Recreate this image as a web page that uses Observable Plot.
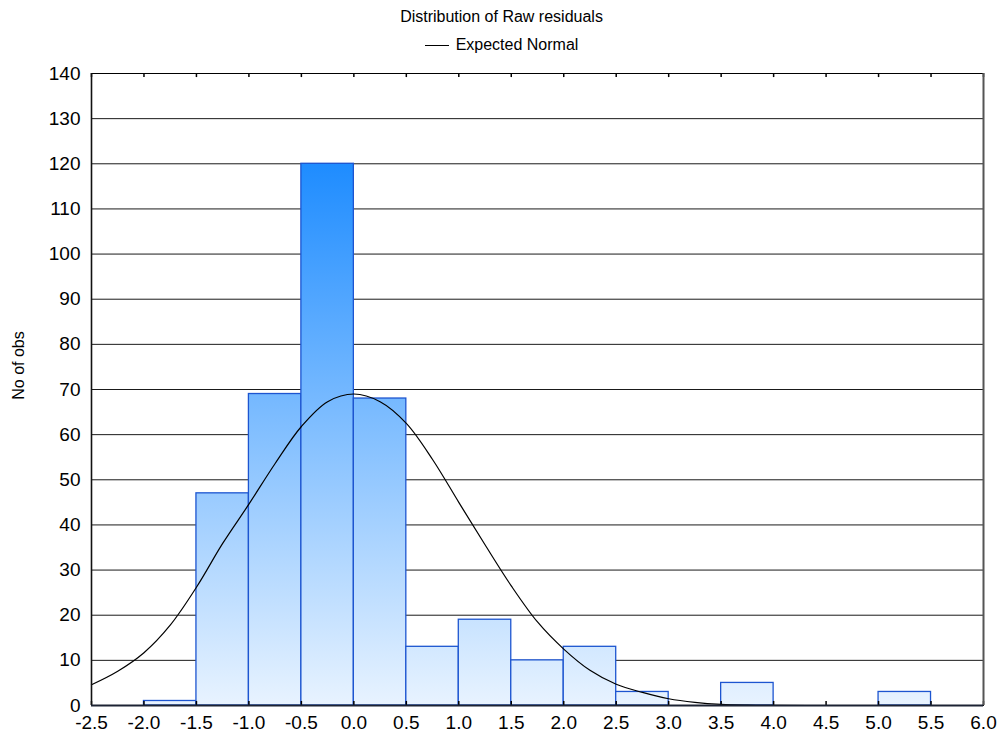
<!DOCTYPE html>
<html>
<head>
<meta charset="utf-8">
<script src="https://cdn.jsdelivr.net/npm/d3@7"></script>
<script src="https://cdn.jsdelivr.net/npm/@observablehq/plot@0.6"></script>
<style>
  html, body { margin: 0; padding: 0; background: #fff; }
  body { width: 1003px; height: 744px; overflow: hidden; font-family: "Liberation Sans", Arial, sans-serif; color: #000; }
  #title { height: 34px; line-height: 34px; text-align: center; font-size: 16px; }
  #legend { height: 22px; line-height: 22px; text-align: center; font-size: 16px; }
  #legend .sw { display: inline-block; width: 24px; height: 0; border-top: 1px solid #000; vertical-align: middle; margin-right: 7px; }
  svg { display: block; }
</style>
</head>
<body>
<div id="title">Distribution of Raw residuals</div>
<div id="legend"><span class="sw"></span>Expected Normal</div>
<div id="chart"></div>
<script>
// Histogram bins (left edges, width 0.5) and counts
const binStarts = [-2.5, -2.0, -1.5, -1.0, -0.5, 0.0, 0.5, 1.0, 1.5, 2.0, 2.5, 3.0, 3.5, 4.0, 4.5, 5.0, 5.5];
const binCounts = [0, 1, 47, 69, 120, 68, 13, 19, 10, 13, 3, 0, 5, 0, 0, 3, 0];
const binWidth = 0.5;

// Expected normal curve
const curveX = [-2.5, -2.25, -2.0, -1.75, -1.5, -1.25, -1.0, -0.75, -0.5, -0.25, 0.0, 0.25, 0.5, 0.75, 1.0, 1.25, 1.5, 1.75, 2.0, 2.25, 2.5, 2.75, 3.0, 3.25, 3.5, 3.75, 4.0, 4.5, 5.0, 5.5, 6.0];
const curveY = [4.6, 7.6, 11.7, 17.8, 26.2, 35.9, 44.6, 53.6, 61.8, 67.3, 69.0, 67.3, 62.5, 54.5, 45.0, 35.6, 26.5, 18.5, 12.5, 7.8, 4.7, 2.9, 1.5, 0.7, 0.25, 0.08, 0.02, 0, 0, 0, 0];

// Tick labels
const xTicks = [-2.5, -2.0, -1.5, -1.0, -0.5, 0.0, 0.5, 1.0, 1.5, 2.0, 2.5, 3.0, 3.5, 4.0, 4.5, 5.0, 5.5, 6.0];
const yTicks = [0, 10, 20, 30, 40, 50, 60, 70, 80, 90, 100, 110, 120, 130, 140];
const xDomain = [-2.5, 6.0];
const yDomain = [0, 140];
const yLabel = "No of obs";

const bars = binStarts.map((s, i) => ({x1: s, x2: s + binWidth, count: binCounts[i]})).filter(d => d.count > 0);
const curve = curveX.map((x, i) => ({x, y: curveY[i]}));
const gridVals = yTicks.filter(v => v > yDomain[0] && v < yDomain[1]);
const tickLen = 0.9; // in y units (~4px)
const fmtX = d => d.toFixed(1); // plain hyphen-minus like the reference

const plot = Plot.plot({
  width: 1003,
  height: 688,
  marginLeft: 91,
  marginRight: 20,
  marginTop: 17,
  marginBottom: 39,
  style: {fontFamily: "'Liberation Sans', Arial, sans-serif", fontSize: "19px", background: "#fff", color: "#000"},
  x: {domain: xDomain},
  y: {domain: yDomain},
  marks: [
    Plot.ruleY(gridVals, {stroke: "#1a1a1a", strokeWidth: 1}),
    Plot.rectY(bars, {x1: "x1", x2: "x2", y: "count", fill: "url(#barGrad)", stroke: "#1d55d0", strokeWidth: 1.3}),
    Plot.line(curve, {x: "x", y: "y", stroke: "#000", strokeWidth: 1.2, curve: "catmull-rom"}),
    // inward ticks on bottom and top
    Plot.ruleX(xTicks, {y1: yDomain[0], y2: yDomain[0] + tickLen, stroke: "#000", strokeWidth: 1.5}),
    Plot.ruleX(xTicks, {y1: yDomain[1] - tickLen, y2: yDomain[1], stroke: "#000", strokeWidth: 1.5}),
    // frame
    Plot.ruleY([yDomain[1]], {stroke: "#000", strokeWidth: 1.2}),
    Plot.ruleX([xDomain[1]], {stroke: "#555", strokeWidth: 2}),
    Plot.ruleX([xDomain[0]], {stroke: "#111", strokeWidth: 1.6}),
    Plot.ruleY([yDomain[0]], {stroke: "#1c2333", strokeWidth: 2.2}),
    Plot.axisX({ticks: xTicks, tickFormat: fmtX, tickSize: 0, tickPadding: 10, label: null, fontSize: 19}),
    Plot.axisY({ticks: yTicks, tickFormat: d => String(d), tickSize: 0, tickPadding: 11, label: null, fontSize: 19}),
    Plot.text([yLabel], {frameAnchor: "left", dx: -73, dy: -24, rotate: -90, textAnchor: "middle", fontSize: 16, text: d => d, fill: "#000"})
  ]
});

// Global vertical gradient for bars (userSpaceOnUse so colour depends on height)
const ys = plot.scale("y");
const ns = "http://www.w3.org/2000/svg";
const defs = document.createElementNS(ns, "defs");
const grad = document.createElementNS(ns, "linearGradient");
grad.setAttribute("id", "barGrad");
grad.setAttribute("gradientUnits", "userSpaceOnUse");
grad.setAttribute("x1", "0"); grad.setAttribute("x2", "0");
grad.setAttribute("y1", ys.apply(120)); grad.setAttribute("y2", ys.apply(0));
[["0%", "#1e8cff"], ["100%", "#e8f3ff"]].forEach(([o, c]) => {
  const st = document.createElementNS(ns, "stop");
  st.setAttribute("offset", o); st.setAttribute("stop-color", c);
  grad.appendChild(st);
});
defs.appendChild(grad);
plot.insertBefore(defs, plot.firstChild);

document.getElementById("chart").appendChild(plot);
</script>
</body>
</html>
